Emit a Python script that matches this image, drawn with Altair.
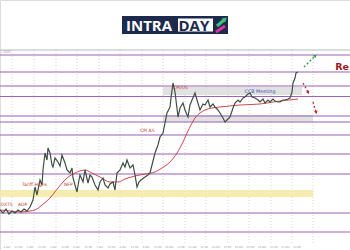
import altair as alt
import pandas as pd

# ---- data ----
bar_x = [0,3,6,9,12,15,18,21,24,27,30,33,35,37,40,42,43,45,47,48,50,52,53,55,58,60,62,65,67,70,72,73,75,77,79,80,83,85,88,90,92,95,98,100,103,105,108,110,113,115,117,120,123,125,127,130,133,135,137,139,141,145,148,150,152,155,158,160,163,165,167,170,171,173,175,178,180,183,185,188,190,192,195,197,200,203,205,208,210,213,215,218,220,223,225,228,230,233,235,238,240,243,245,248,250,252,255,258,260,263,265,268,270,273,275,278,280,283,285,288,290,292,293,295,296,298]
bar_price = [1.030,1.027,1.031,1.026,1.029,1.027,1.030,1.028,1.031,1.029,1.033,1.040,1.053,1.045,1.060,1.055,1.070,1.087,1.080,1.092,1.087,1.075,1.073,1.082,1.078,1.074,1.085,1.077,1.070,1.067,1.072,1.062,1.055,1.048,1.060,1.065,1.058,1.070,1.057,1.065,1.063,1.055,1.050,1.058,1.062,1.055,1.052,1.056,1.058,1.050,1.067,1.070,1.077,1.073,1.080,1.072,1.075,1.065,1.053,1.058,1.060,1.063,1.065,1.067,1.075,1.087,1.095,1.103,1.107,1.117,1.127,1.133,1.142,1.157,1.148,1.123,1.132,1.137,1.130,1.123,1.135,1.140,1.147,1.140,1.130,1.136,1.135,1.140,1.133,1.136,1.133,1.130,1.127,1.122,1.118,1.121,1.123,1.132,1.137,1.140,1.138,1.142,1.143,1.146,1.147,1.143,1.142,1.140,1.138,1.141,1.137,1.140,1.138,1.141,1.139,1.138,1.138,1.140,1.140,1.141,1.142,1.148,1.157,1.162,1.167,1.168]

ma_x = [0,10,20,30,35,42,50,58,67,75,85,92,100,110,118,125,135,145,155,162,170,177,183,187,191,195,200,205,212,220,240,260,280,298]
ma_price = [1.030,1.029,1.028,1.029,1.030,1.035,1.042,1.052,1.062,1.067,1.070,1.067,1.063,1.058,1.058,1.061,1.064,1.066,1.068,1.072,1.078,1.087,1.098,1.107,1.115,1.122,1.127,1.130,1.132,1.133,1.135,1.136,1.139,1.141]

levels = [1.185,1.168,1.154,1.1435,1.124,1.118,1.105,1.086,1.066,1.027,1.008]

zone_x0 = [163,163]
zone_x1 = [302,313]
zone_hi = [1.153,1.125]
zone_lo = [1.145,1.118]

yellow_x0 = [0]
yellow_x1 = [313]
yellow_hi = [1.050]
yellow_lo = [1.043]

grid_x = [12,34,56,77,99,120,142,163,185,206,228,249,271,292,313]

date_labels = ["1 Apr","12:00","2 Apr","12:00","3 Apr","12:00","4 Apr","12:00","7 Apr","12:00",
               "8 Apr","12:00","9 Apr","12:00","10 Apr","12:00","11 Apr","12:00","14 Apr","12:00",
               "15 Apr","12:00","16 Apr","12:00","17 Apr","12:00"]

note_text = ["DXTS","ADP","Tariff Highs","NFP","CPI AS","CPI/US"]
note_x = [0.5,18,22,64,140,173]
note_price = [1.033,1.033,1.053,1.053,1.107,1.150]

blue_text = ["CCB Meeting"]
blue_x = [260]
blue_price = [1.148]

arrow_x = [304,303,313]
arrow_x2 = [315,308,316]
arrow_p = [1.173,1.157,1.138]
arrow_p2 = [1.184,1.148,1.128]
arrow_col = ["#2e9a3a","#c0272d","#c0272d"]
arrow_ang = [45,151,163]

# ---- scales ----
XS = alt.Scale(domain=[0,350], nice=False, zero=False)
YS = alt.Scale(domain=[0.99,1.24], nice=False, zero=False)
def X(f="x"): return alt.X(f"{f}:Q", scale=XS, axis=None)
def Y(f="p"): return alt.Y(f"{f}:Q", scale=YS, axis=None)

one = pd.DataFrame({"a":[0]})

grid = alt.Chart(pd.DataFrame({"x":grid_x})).mark_rule(color="#c4c4c4", strokeWidth=0.7, strokeDash=[1,2]).encode(
    x=X(), y=alt.value(50), y2=alt.value(243))

border = alt.Chart(one).mark_rule(color="#b8b8b8", strokeWidth=1).encode(
    x=alt.value(0), x2=alt.value(350), y=alt.value(50))

yellow = alt.Chart(pd.DataFrame({"x":yellow_x0,"x2":yellow_x1,"p":yellow_hi,"p2":yellow_lo})).mark_rect(
    color="#f3eba6", opacity=0.9).encode(x=X(), x2="x2:Q", y=Y(), y2="p2:Q")

zones = alt.Chart(pd.DataFrame({"x":zone_x0,"x2":zone_x1,"p":zone_hi,"p2":zone_lo})).mark_rect(
    color="#dedede", opacity=0.9).encode(x=X(), x2="x2:Q", y=Y(), y2="p2:Q")

lvl = alt.Chart(pd.DataFrame({"p":levels})).mark_rule(color="#9a62b8", strokeWidth=1.2).encode(
    y=Y(), x=alt.value(0), x2=alt.value(350))

ma = alt.Chart(pd.DataFrame({"x":ma_x,"p":ma_price})).mark_line(color="#c8333a", strokeWidth=0.9, interpolate="monotone").encode(
    x=X(), y=Y())

price = alt.Chart(pd.DataFrame({"x":bar_x,"p":bar_price})).mark_line(color="#3f4f42", strokeWidth=1.2).encode(
    x=X(), y=Y())

notes = alt.Chart(pd.DataFrame({"x":note_x,"p":note_price,"t":note_text})).mark_text(
    color="#c0392b", fontSize=4.5, font="DejaVu Sans", align="left", baseline="bottom").encode(
    x=X(), y=Y(), text="t:N")

blue = alt.Chart(pd.DataFrame({"x":blue_x,"p":blue_price,"t":blue_text})).mark_text(
    color="#3b4bb0", fontSize=4.8, font="DejaVu Sans", align="center", baseline="middle").encode(
    x=X(), y=Y(), text="t:N")

adf = pd.DataFrame({"x":arrow_x,"x2":arrow_x2,"p":arrow_p,"p2":arrow_p2,"c":arrow_col,"ang":arrow_ang})
arr_lines = alt.Chart(adf).mark_rule(strokeWidth=1.3, strokeDash=[2,2]).encode(
    x=X(), x2="x2:Q", y=Y(), y2="p2:Q", color=alt.Color("c:N", scale=None))
arr_heads = alt.Chart(adf).mark_point(shape="triangle", filled=True, size=14, opacity=1).encode(
    x=X("x2"), y=Y("p2"), color=alt.Color("c:N", scale=None), angle=alt.Angle("ang:Q", scale=None))

dates = alt.Chart(pd.DataFrame({"t":date_labels, "i":list(range(len(date_labels)))})).transform_calculate(
    x="7 + datum.i * 11.6").mark_text(color="#9a9a9a", fontSize=2.6, font="DejaVu Sans", align="center").encode(
    x=X(), y=alt.value(247), text="t:N")

toplabel = alt.Chart(pd.DataFrame({"t":["1.19000"]})).mark_text(color="#9a9a9a", fontSize=2.6, align="left").encode(
    x=alt.value(1), y=alt.value(52.5), text="t:N")

re_text = alt.Chart(pd.DataFrame({"t":["Re"]})).mark_text(color="#a0161c", fontSize=9.5, fontWeight="bold",
    font="DejaVu Sans", align="right", baseline="middle").encode(x=alt.value(349), y=alt.value(67), text="t:N")

# logo
logo_bg = alt.Chart(one).mark_rect(color="#1c2b4d").encode(
    x=alt.value(122), x2=alt.value(228), y=alt.value(16), y2=alt.value(34))
logo_box = alt.Chart(one).mark_rect(color="#ffffff").encode(
    x=alt.value(178), x2=alt.value(213), y=alt.value(18.5), y2=alt.value(31.5))
logo_t1 = alt.Chart(pd.DataFrame({"t":["INTRA"]})).mark_text(color="#ffffff", fontSize=15, fontWeight="bold",
    font="Open Sans", align="left", baseline="alphabetic").encode(x=alt.value(126), y=alt.value(30.5), text="t:N")
logo_t2 = alt.Chart(pd.DataFrame({"t":["DAY"]})).mark_text(color="#1c2b4d", fontSize=15, fontWeight="bold",
    font="Open Sans", align="left", baseline="alphabetic").encode(x=alt.value(178.5), y=alt.value(30.5), text="t:N")
logo_g = alt.Chart(one).mark_rule(color="#3fc07a", strokeWidth=3).encode(
    x=alt.value(217), x2=alt.value(224), y=alt.value(26), y2=alt.value(20))
logo_gh = alt.Chart(one).mark_point(shape="triangle", filled=True, size=30, color="#3fc07a", opacity=1, angle=50).encode(
    x=alt.value(224.5), y=alt.value(19.5))
logo_m = alt.Chart(one).mark_rule(color="#e0309a", strokeWidth=3).encode(
    x=alt.value(216), x2=alt.value(225), y=alt.value(32), y2=alt.value(26))

chart = alt.layer(grid, border, yellow, zones, lvl, ma, price, notes, blue, arr_lines, arr_heads,
                  dates, toplabel, re_text, logo_bg, logo_box, logo_t1, logo_t2, logo_g, logo_gh, logo_m
).properties(width=350, height=250, autosize=alt.AutoSizeParams(type="none"), padding=0
).configure_view(stroke=None).configure(background="#ffffff")

chart.save("out.html", embed_options={"renderer": "svg", "actions": False})
